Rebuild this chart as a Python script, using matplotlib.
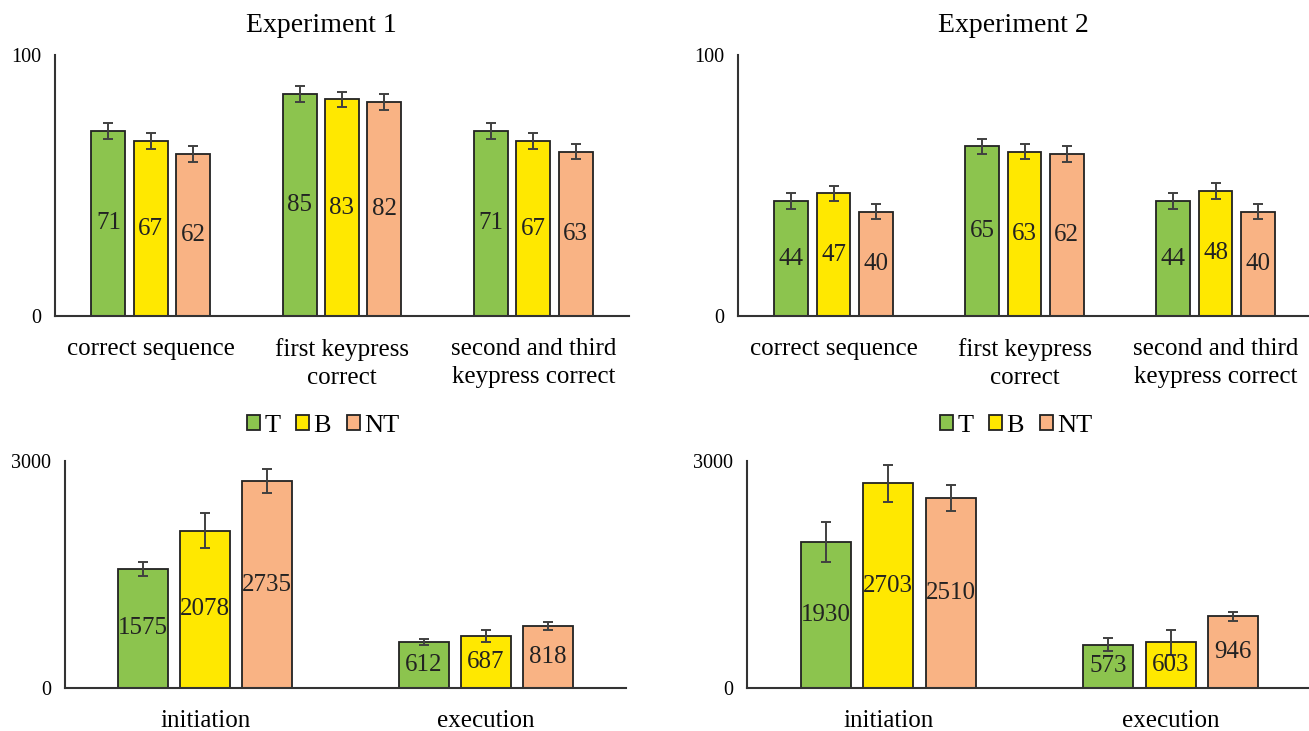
import matplotlib
matplotlib.use("Agg")
import matplotlib.pyplot as plt
from matplotlib.patches import Patch
import numpy as np

plt.rcParams['font.family'] = ['Liberation Serif', 'DejaVu Serif']

conditions = ["T", "B", "NT"]
colors = ["#8CC44E", "#FFE800", "#F9B384"]

acc_categories = ["correct sequence", "first keypress\ncorrect", "second and third\nkeypress correct"]
rt_categories = ["initiation", "execution"]

# Accuracy (%) per category, for T / B / NT
exp1_acc = {"T": [71, 85, 71], "B": [67, 83, 67], "NT": [62, 82, 63]}
exp1_acc_err = {"T": [3, 3, 3], "B": [3, 3, 3], "NT": [3, 3, 3]}
exp2_acc = {"T": [44, 65, 44], "B": [47, 63, 48], "NT": [40, 62, 40]}
exp2_acc_err = {"T": [3, 3, 3], "B": [3, 3, 3], "NT": [3, 3, 3]}

# Response times (ms)
exp1_rt = {"T": [1575, 612], "B": [2078, 687], "NT": [2735, 818]}
exp1_rt_err = {"T": [95, 40], "B": [230, 85], "NT": [160, 55]}
exp2_rt = {"T": [1930, 573], "B": [2703, 603], "NT": [2510, 946]}
exp2_rt_err = {"T": [270, 90], "B": [250, 170], "NT": [170, 60]}

W, H = 1309, 731
fig = plt.figure(figsize=(W / 100, H / 100), dpi=100)


def px_axes(left, right, top, bottom):
    return fig.add_axes([left / W, 1 - bottom / H, (right - left) / W, (bottom - top) / H])


def panel(ax, cats, vals, errs, ymax, width=0.177, step=0.221):
    x = np.arange(len(cats))
    for i, c in enumerate(conditions):
        pos = x + (i - 1) * step
        ax.bar(pos, vals[c], width=width, color=colors[i], edgecolor="#222222",
               linewidth=1.3, zorder=2)
        ax.errorbar(pos, vals[c], yerr=errs[c], fmt="none", ecolor="#404040",
                    elinewidth=1.4, capsize=3.5, capthick=1.4, zorder=3)
        for p, v in zip(pos, vals[c]):
            ax.text(p, v / 2, f"{v}", ha="center", va="center", fontsize=18,
                    color="#222222", zorder=4)
    ax.set_xlim(-0.5, len(cats) - 0.5)
    ax.set_ylim(0, ymax)
    ax.set_yticks([0, ymax])
    ax.set_yticklabels(["0", str(ymax)], fontsize=14.5)
    ax.set_xticks(x)
    ax.set_xticklabels(cats, fontsize=18, linespacing=1.32)
    ax.tick_params(axis="both", length=0)
    ax.tick_params(axis="y", pad=10)
    ax.tick_params(axis="x", pad=16)
    for s in ["top", "right"]:
        ax.spines[s].set_visible(False)
    for s in ["left", "bottom"]:
        ax.spines[s].set_color("#333333")
        ax.spines[s].set_linewidth(1.5)
    ax.set_facecolor("none")


ax1 = px_axes(55, 629, 55, 316)
panel(ax1, acc_categories, exp1_acc, exp1_acc_err, 100)
ax2 = px_axes(738, 1311, 55, 316)
panel(ax2, acc_categories, exp2_acc, exp2_acc_err, 100)
ax3 = px_axes(65, 626, 461, 688)
panel(ax3, rt_categories, exp1_rt, exp1_rt_err, 3000)
ax4 = px_axes(747, 1312, 461, 688)
panel(ax4, rt_categories, exp2_rt, exp2_rt_err, 3000)

fig.text(321 / W, 1 - 25 / H, "Experiment 1", ha="center", va="center", fontsize=20)
fig.text(1013 / W, 1 - 25 / H, "Experiment 2", ha="center", va="center", fontsize=20)

handles = [Patch(facecolor=colors[i], edgecolor="#222222", linewidth=1.3, label=c)
           for i, c in enumerate(conditions)]
for cx in (323, 1016):
    fig.legend(handles=handles, loc="center", bbox_to_anchor=(cx / W, 1 - 426 / H),
               ncol=3, frameon=False, fontsize=19, handlelength=0.5, handleheight=0.5,
               handletextpad=0.15, columnspacing=0.6, borderaxespad=0)

fig.savefig("out.png", dpi=100, facecolor="white")
